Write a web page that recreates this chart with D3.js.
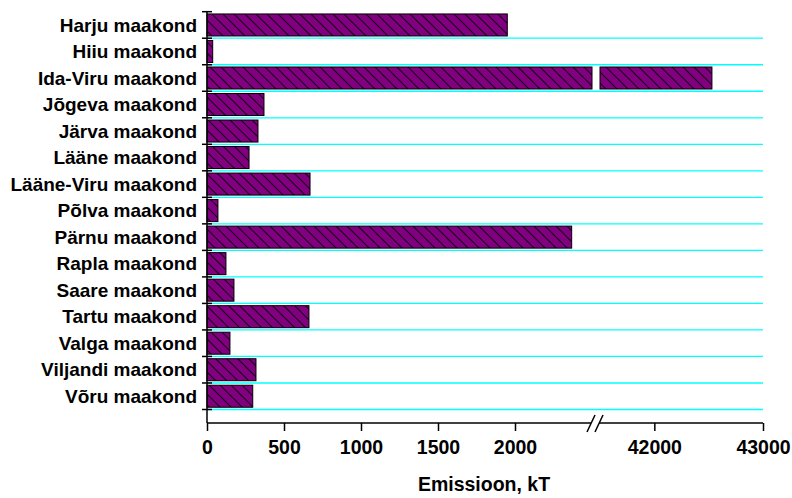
<!DOCTYPE html>
<html><head><meta charset="utf-8">
<script src="https://cdn.jsdelivr.net/npm/d3@7"></script>
<style>body{margin:0;background:#fff}svg{display:block}text{font-family:"Liberation Sans",Arial,sans-serif;font-weight:bold;fill:#000}</style>
</head><body>
<script>
const categories = ["Harju maakond","Hiiu maakond","Ida-Viru maakond","Jõgeva maakond","Järva maakond","Lääne maakond","Lääne-Viru maakond","Põlva maakond","Pärnu maakond","Rapla maakond","Saare maakond","Tartu maakond","Valga maakond","Viljandi maakond","Võru maakond"];
const values = [1950, 37, 42530, 370, 331, 273, 669, 71, 2368, 123, 175, 662, 149, 318, 297];
const ticksLow = [0, 500, 1000, 1500, 2000];
const ticksHigh = [42000, 43000];
const lowDomain = [0, 2500];
const highDomain = [41500, 43000];
const xTitle = "Emissioon, kT";

const W = 792, H = 498;
const svg = d3.select("body").append("svg").attr("width", W).attr("height", H);
const defs = svg.append("defs");
const pat = defs.append("pattern").attr("id","hatch").attr("patternUnits","userSpaceOnUse")
  .attr("width",11).attr("height",11);
pat.append("rect").attr("width",11).attr("height",11).attr("fill","#800080");
pat.append("path").attr("d","M-2,-2L13,13M-2,9L2,13M9,-2L13,2").attr("stroke","#1a001a").attr("stroke-width",1.2);

const x0 = 207, xBreakL = 592, xBreakR = 600, xEnd = 763;
const yTop = 11.7, yBot = 409.5, yAxis = 423;
const xLow = d3.scaleLinear().domain(lowDomain).range([x0, xBreakL]);
const xHigh = d3.scaleLinear().domain(highDomain).range([xBreakR, xEnd]);
const y = d3.scaleBand().domain(categories).range([yTop, yBot]).paddingInner(0.17).paddingOuter(0.085);
const bandStep = (yBot - yTop) / categories.length;
const boundaries = d3.range(categories.length + 1).map(i => yTop + i * bandStep);

// gridlines
svg.append("g").selectAll("line").data(boundaries.slice(1)).join("line")
  .attr("x1", x0).attr("x2", xEnd).attr("y1", d => d).attr("y2", d => d)
  .attr("stroke", "#00FFFF").attr("stroke-width", 1.3);

// bars
const data = categories.map((c, i) => ({c, v: values[i]}));
const bars = svg.append("g");
data.forEach(d => {
  const lowEnd = Math.min(d.v, lowDomain[1]);
  bars.append("rect").attr("x", xLow(0)).attr("y", y(d.c))
    .attr("width", xLow(lowEnd) - xLow(0)).attr("height", y.bandwidth())
    .attr("fill", "url(#hatch)").attr("stroke", "#000").attr("stroke-width", 1);
  if (d.v > highDomain[0]) {
    bars.append("rect").attr("x", xHigh(highDomain[0])).attr("y", y(d.c))
      .attr("width", xHigh(d.v) - xHigh(highDomain[0])).attr("height", y.bandwidth())
      .attr("fill", "url(#hatch)").attr("stroke", "#000").attr("stroke-width", 1);
  }
});

// y axis
svg.append("line").attr("x1", x0).attr("x2", x0).attr("y1", yTop).attr("y2", yAxis)
  .attr("stroke", "#000").attr("stroke-width", 1.5);
svg.append("g").selectAll("line").data(boundaries).join("line")
  .attr("x1", 202).attr("x2", 212).attr("y1", d => d).attr("y2", d => d)
  .attr("stroke", "#000").attr("stroke-width", 1.5);
svg.append("g").selectAll("text").data(categories).join("text")
  .attr("x", 197).attr("y", d => y(d) + y.bandwidth() / 2 + 6.7)
  .attr("text-anchor", "end")
  .style("font-size", "19px").text(d => d);

// x axis (broken)
const axLow = d3.axisBottom(xLow).tickValues(ticksLow).tickSize(8).tickSizeOuter(0).tickFormat(d3.format("d"));
const axHigh = d3.axisBottom(xHigh).tickValues(ticksHigh).tickSize(8).tickSizeOuter(0).tickFormat(d3.format("d"));
[axLow, axHigh].forEach(ax => {
  const g = svg.append("g").attr("transform", `translate(0,${yAxis})`).call(ax);
  g.select(".domain").remove();
  g.selectAll(".tick line").attr("stroke", "#000").attr("stroke-width", 1.5);
  g.selectAll(".tick text").attr("y", 31).attr("dy", null).style("font-size", "19.5px")
    .style("font-family", '"Liberation Sans",Arial,sans-serif').style("font-weight", "bold").attr("fill", "#000");
});
svg.append("line").attr("x1", x0).attr("x2", 591).attr("y1", yAxis).attr("y2", yAxis).attr("stroke", "#000").attr("stroke-width", 1.5);
svg.append("line").attr("x1", 599).attr("x2", xEnd).attr("y1", yAxis).attr("y2", yAxis).attr("stroke", "#000").attr("stroke-width", 1.5);
svg.append("line").attr("x1", 587).attr("x2", 595).attr("y1", 432).attr("y2", 415).attr("stroke", "#000").attr("stroke-width", 1.5);
svg.append("line").attr("x1", 595).attr("x2", 603).attr("y1", 432).attr("y2", 415).attr("stroke", "#000").attr("stroke-width", 1.5);

svg.append("text").attr("x", 484).attr("y", 491).attr("text-anchor", "middle")
  .style("font-size", "19.5px").text(xTitle);
</script>
</body></html>
